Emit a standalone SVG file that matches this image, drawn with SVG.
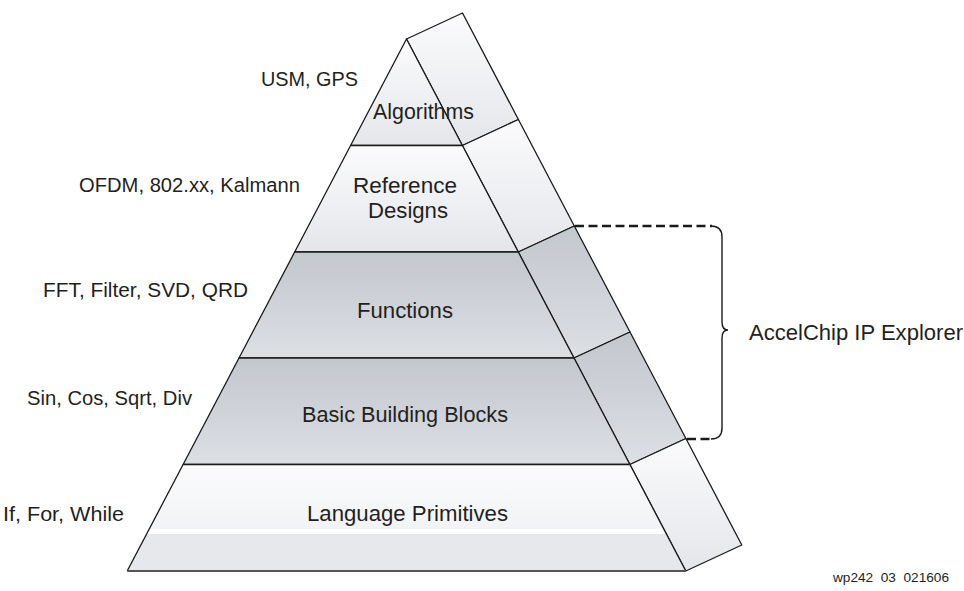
<svg xmlns="http://www.w3.org/2000/svg" width="964" height="591" viewBox="0 0 964 591">
  <defs>
    <linearGradient id="lightFill" x1="0" y1="0" x2="0" y2="1">
      <stop offset="0" stop-color="#fbfbfc"/>
      <stop offset="1" stop-color="#e4e6ea"/>
    </linearGradient>
    <linearGradient id="darkFill" x1="0" y1="0" x2="0" y2="1">
      <stop offset="0" stop-color="#c3c7ce"/>
      <stop offset="1" stop-color="#dcdfe4"/>
    </linearGradient>
    <linearGradient id="baseFill" x1="0" y1="0" x2="0" y2="1">
      <stop offset="0" stop-color="#fbfbfc"/>
      <stop offset="1" stop-color="#eceef1"/>
    </linearGradient>
    <style>
      .edge { stroke: #1a1a1a; stroke-width: 1.3; stroke-linejoin: round; }
      .light { fill: url(#lightFill); }
      .dark { fill: url(#darkFill); }
      .lbl { font-family: "Liberation Sans", Arial, sans-serif; font-size: 20px; fill: #231f20; }
      .tier { font-family: "Liberation Sans", Arial, sans-serif; font-size: 22px; fill: #231f20; }
      .dash { fill: none; stroke: #1a1a1a; stroke-width: 2.6; stroke-dasharray: 9 4.5; }
      .brace { fill: none; stroke: #1a1a1a; stroke-width: 1.4; }
    </style>
  </defs>

  <!-- Side faces of the pyramid -->
  <g id="side-faces">
    <polygon class="light edge" points="406.5,39 462.5,13 518.4,119.5 462.4,145.5"/>
    <polygon class="light edge" points="462.4,145.5 518.4,119.5 574.3,226 518.3,252"/>
    <polygon class="dark edge" points="518.3,252 574.3,226 630,332 574,358"/>
    <polygon class="dark edge" points="574,358 630,332 685.9,438.5 629.9,464.5"/>
    <polygon class="light edge" points="629.9,464.5 685.9,438.5 741.8,545 685.8,571"/>
  </g>

  <!-- Tier: Algorithms -->
  <g id="tier-algorithms">
    <polygon class="light edge" points="406.5,39 462.4,145.5 350.6,145.5"/>
    <text class="tier" x="373" y="119" textLength="101" lengthAdjust="spacingAndGlyphs">Algorithms</text>
  </g>

  <!-- Tier: Reference Designs -->
  <g id="tier-reference-designs">
    <polygon class="light edge" points="350.6,145.5 462.4,145.5 518.3,252 294.7,252"/>
    <text class="tier" x="353" y="193" textLength="104" lengthAdjust="spacingAndGlyphs">Reference</text>
    <text class="tier" x="368" y="218" textLength="80" lengthAdjust="spacingAndGlyphs">Designs</text>
  </g>

  <!-- Tier: Functions -->
  <g id="tier-functions">
    <polygon class="dark edge" points="294.7,252 518.3,252 574,358 239,358"/>
    <text class="tier" x="357" y="318" textLength="96" lengthAdjust="spacingAndGlyphs">Functions</text>
  </g>

  <!-- Tier: Basic Building Blocks -->
  <g id="tier-basic-building-blocks">
    <polygon class="dark edge" points="239,358 574,358 629.9,464.5 183.1,464.5"/>
    <text class="tier" x="302" y="422" textLength="206" lengthAdjust="spacingAndGlyphs">Basic Building Blocks</text>
  </g>

  <!-- Tier: Language Primitives (base) -->
  <g id="tier-language-primitives">
    <polygon fill="url(#baseFill)" points="183.1,464.5 629.9,464.5 685.8,571 127.2,571"/>
    <polygon fill="#e6e8ec" points="146.6,534 663,534 665.6,534 685.8,571 127.2,571"/>
    <polygon fill="#ffffff" points="149.2,529 663,529 663,534 146.6,534"/>
    <polyline class="edge" fill="none" points="629.9,464.5 685.8,571"/>
    <polyline class="edge" fill="none" points="183.1,464.5 127.2,571"/>
    <line x1="183.1" y1="464.5" x2="629.9" y2="464.5" class="edge"/>
    <line x1="127.2" y1="571" x2="685.8" y2="571" stroke="#555" stroke-width="2"/>
    <text class="tier" x="307" y="521" textLength="201" lengthAdjust="spacingAndGlyphs">Language Primitives</text>
  </g>

  <!-- Example labels to the left of each tier -->
  <g id="examples">
    <text class="lbl" x="261" y="86" textLength="97" lengthAdjust="spacingAndGlyphs">USM, GPS</text>
    <text class="lbl" x="79" y="192" textLength="221" lengthAdjust="spacingAndGlyphs">OFDM, 802.xx, Kalmann</text>
    <text class="lbl" x="43" y="297" textLength="205" lengthAdjust="spacingAndGlyphs">FFT, Filter, SVD, QRD</text>
    <text class="lbl" x="27" y="405" textLength="165" lengthAdjust="spacingAndGlyphs">Sin, Cos, Sqrt, Div</text>
    <text class="lbl" x="3" y="521" textLength="121" lengthAdjust="spacingAndGlyphs">If, For, While</text>
  </g>

  <!-- Bracket spanning Functions and Basic Building Blocks -->
  <g id="connectors">
    <line class="dash" x1="575" y1="226" x2="712" y2="226"/>
    <line class="dash" x1="687" y1="439" x2="712" y2="439"/>
    <path class="brace" d="M711,226 Q722,226 722,237 L722,322 Q722,330 728,330 Q722,330 722,338 L722,428 Q722,439 711,439"/>
  </g>

  <g id="explorer-label">
    <text class="tier" x="749" y="340" textLength="214" lengthAdjust="spacingAndGlyphs">AccelChip IP Explorer</text>
  </g>

  <text x="833" y="582" font-family="'Liberation Sans', Arial, sans-serif" font-size="12.5" fill="#231f20" xml:space="preserve" textLength="116" lengthAdjust="spacingAndGlyphs">wp242  03  021606</text>
</svg>
